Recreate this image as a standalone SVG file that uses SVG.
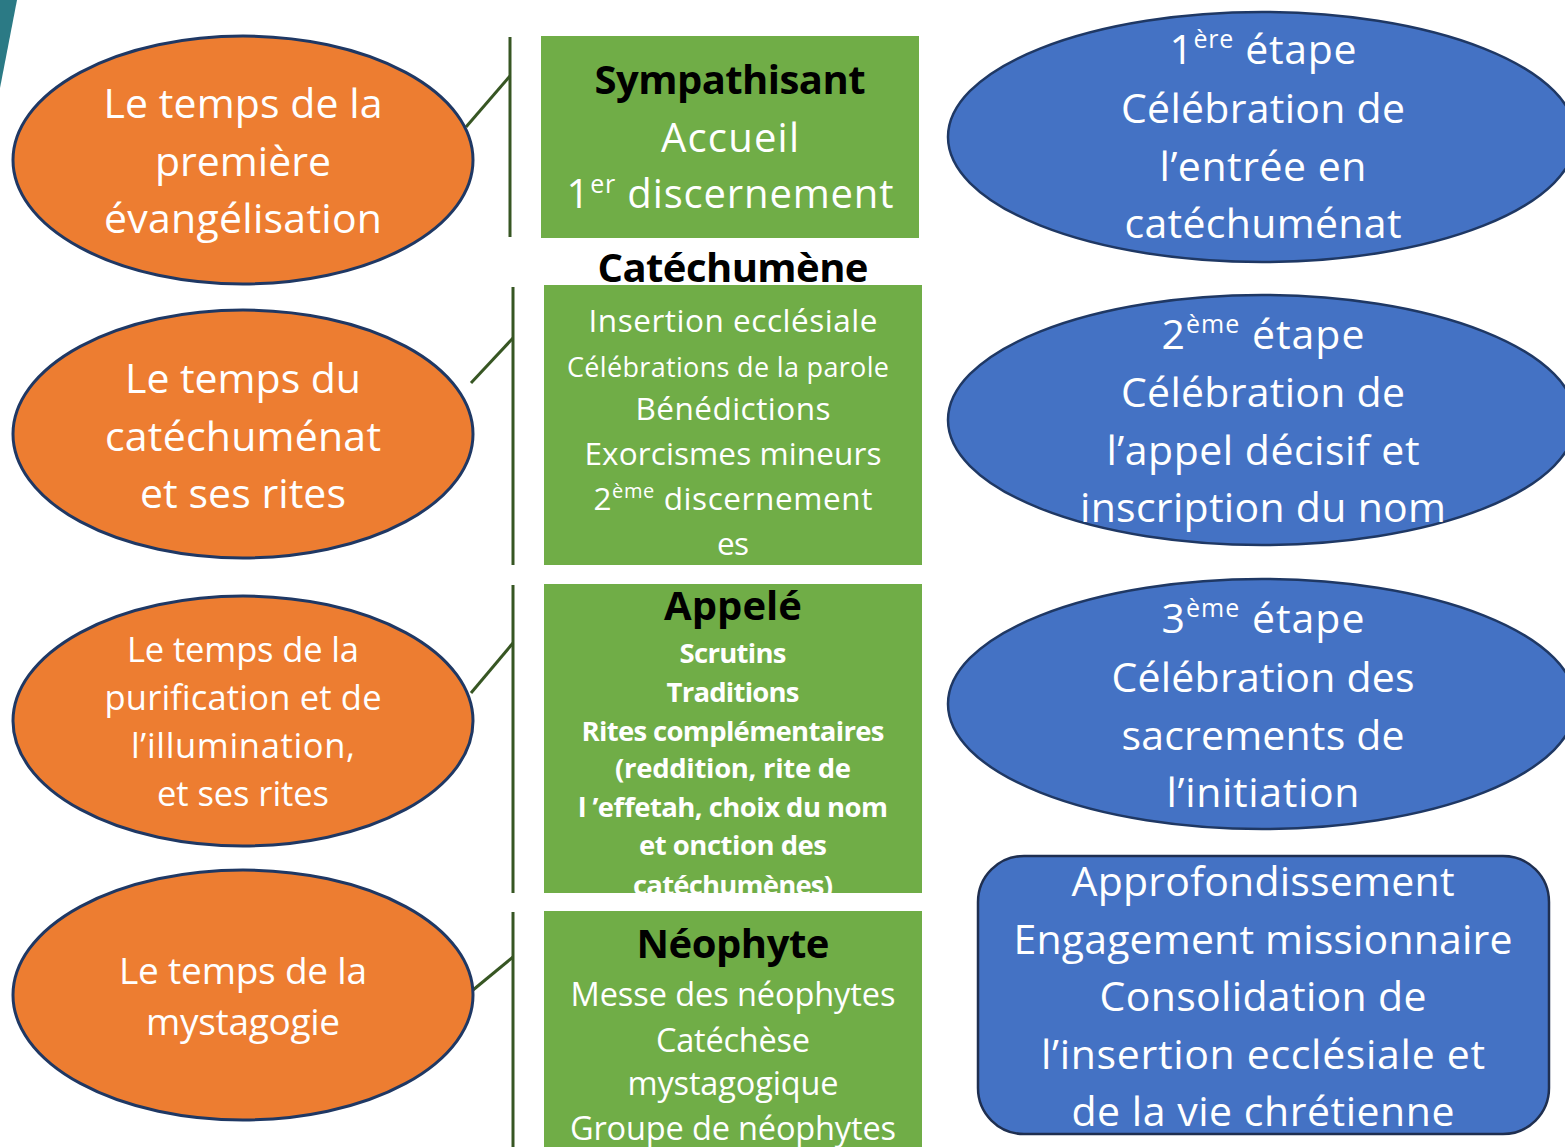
<svg xmlns="http://www.w3.org/2000/svg" width="1565" height="1147" viewBox="0 0 1565 1147">
<defs>
<style>
.t{font-family:"Open Sans","Noto Sans","Liberation Sans",sans-serif;text-anchor:middle;fill:#ffffff}
.bk{fill:#000000;font-weight:bold}
.bd{font-weight:bold}
.or{fill:#ed7d31;stroke:#1f3864;stroke-width:3}
.bl{fill:#4472c4;stroke:#1f3864;stroke-width:2.5}
.gr{fill:#70ad47}
.ln{stroke:#375623;stroke-width:3;fill:none}
</style>
<clipPath id="clip3"><rect x="544" y="584" width="378" height="309"/></clipPath>
</defs>
<rect width="1565" height="1147" fill="#ffffff"/>
<polygon points="0,0 17,0 0,88" fill="#2b7a85"/>

<g id="connectors">
<line class="ln" x1="510" y1="37" x2="510" y2="237"/>
<line class="ln" x1="466" y1="127" x2="510" y2="76"/>
<line class="ln" x1="513" y1="287" x2="513" y2="565"/>
<line class="ln" x1="471" y1="383" x2="513" y2="338"/>
<line class="ln" x1="513" y1="585" x2="513" y2="893"/>
<line class="ln" x1="471" y1="693" x2="513" y2="643"/>
<line class="ln" x1="513" y1="912" x2="513" y2="1147"/>
<line class="ln" x1="473" y1="990" x2="513" y2="957"/>
</g>

<g id="temps1">
<ellipse class="or" cx="243" cy="160" rx="230" ry="124"/>
<text class="t" font-size="41"><tspan x="243" y="118" textLength="279">Le temps de la</tspan><tspan x="243" y="176" textLength="176">première</tspan><tspan x="243" y="233" textLength="278">évangélisation</tspan></text>
</g>
<g id="temps2">
<ellipse class="or" cx="243" cy="434" rx="230" ry="124"/>
<text class="t" font-size="41"><tspan x="243" y="393" textLength="236">Le temps du</tspan><tspan x="243" y="451" textLength="276">catéchuménat</tspan><tspan x="243" y="508" textLength="206">et ses rites</tspan></text>
</g>
<g id="temps3">
<ellipse class="or" cx="243" cy="721" rx="230" ry="125"/>
<text class="t" font-size="34.5"><tspan x="243" y="662" textLength="232">Le temps de la</tspan><tspan x="243" y="710" textLength="277">purification et de</tspan><tspan x="243" y="758" textLength="224">l’illumination,</tspan><tspan x="243" y="806" textLength="172">et ses rites</tspan></text>
</g>
<g id="temps4">
<ellipse class="or" cx="243" cy="995" rx="230" ry="125"/>
<text class="t" font-size="37"><tspan x="243" y="984" textLength="248">Le temps de la</tspan><tspan x="243" y="1035" textLength="194">mystagogie</tspan></text>
</g>

<g id="sympathisant">
<rect class="gr" x="541" y="36" width="378" height="202"/>
<text class="t bk" x="730" y="94" font-size="40" textLength="271">Sympathisant</text>
<text class="t" x="730" y="152" font-size="40" textLength="138">Accueil</text>
<text class="t" x="730" y="208" font-size="40" textLength="327">1<tspan font-size="25" dy="-15">er</tspan><tspan dy="15"> discernement</tspan></text>
</g>

<g id="catechumene">
<text class="t bk" x="733" y="282" font-size="40" textLength="271">Catéchumène</text>
<rect class="gr" x="544" y="285" width="378" height="280"/>
<text class="t" x="733" y="332" font-size="31.5" textLength="289">Insertion ecclésiale</text>
<text class="t" x="728" y="377" font-size="27" textLength="322">Célébrations de la parole</text>
<text class="t" x="733" y="420" font-size="31.5" textLength="195">Bénédictions</text>
<text class="t" x="733" y="465" font-size="31.5" textLength="297">Exorcismes mineurs</text>
<text class="t" x="733" y="510" font-size="31.5" textLength="279">2<tspan font-size="20" dy="-12">ème</tspan><tspan dy="12"> discernement</tspan></text>
<text class="t" x="733" y="555" font-size="31.5" textLength="32">es</text>
</g>

<g id="appele">
<rect class="gr" x="544" y="584" width="378" height="309"/>
<text class="t bk" x="733" y="620" font-size="40" textLength="138">Appelé</text>
<g class="bd" clip-path="url(#clip3)">
<text class="t bd" x="733" y="663" font-size="27.5" textLength="107">Scrutins</text>
<text class="t bd" x="733" y="702" font-size="27.5" textLength="133">Traditions</text>
<text class="t bd" x="733" y="741" font-size="27.5" textLength="303">Rites complémentaires</text>
<text class="t bd" x="733" y="778" font-size="27.5" textLength="236">(reddition, rite de</text>
<text class="t bd" x="733" y="817" font-size="27.5" textLength="310">l ’effetah, choix du nom</text>
<text class="t bd" x="733" y="855" font-size="27.5" textLength="188">et onction des</text>
<text class="t bd" x="733" y="895" font-size="27.5" textLength="200">catéchumènes)</text>
</g>
</g>

<g id="neophyte">
<rect class="gr" x="544" y="911" width="378" height="236"/>
<text class="t bk" x="733" y="958" font-size="40" textLength="193">Néophyte</text>
<text class="t" x="733" y="1006" font-size="32.5" textLength="325">Messe des néophytes</text>
<text class="t" x="733" y="1052" font-size="32.5" textLength="154">Catéchèse</text>
<text class="t" x="733" y="1095" font-size="32.5" textLength="211">mystagogique</text>
<text class="t" x="733" y="1140" font-size="32.5" textLength="326">Groupe de néophytes</text>
</g>

<g id="etape1">
<ellipse class="bl" cx="1262" cy="137" rx="314" ry="125"/>
<text class="t" x="1263" y="64" font-size="41" textLength="187">1<tspan font-size="25" dy="-16">ère</tspan><tspan dy="16"> étape</tspan></text>
<text class="t" font-size="41"><tspan x="1263" y="123" textLength="284">Célébration de</tspan><tspan x="1263" y="181" textLength="207">l’entrée en</tspan><tspan x="1263" y="238" textLength="277">catéchuménat</tspan></text>
</g>

<g id="etape2">
<ellipse class="bl" cx="1262" cy="420" rx="314" ry="125"/>
<text class="t" x="1263" y="349" font-size="41" textLength="203">2<tspan font-size="25" dy="-16">ème</tspan><tspan dy="16"> étape</tspan></text>
<text class="t" font-size="41"><tspan x="1263" y="407" textLength="284">Célébration de</tspan><tspan x="1263" y="465" textLength="313">l’appel décisif et</tspan><tspan x="1263" y="522" textLength="366">inscription du nom</tspan></text>
</g>

<g id="etape3">
<ellipse class="bl" cx="1262" cy="704" rx="314" ry="125"/>
<text class="t" x="1263" y="633" font-size="41" textLength="203">3<tspan font-size="25" dy="-16">ème</tspan><tspan dy="16"> étape</tspan></text>
<text class="t" font-size="41"><tspan x="1263" y="692" textLength="303">Célébration des</tspan><tspan x="1263" y="750" textLength="283">sacrements de</tspan><tspan x="1263" y="807" textLength="193">l’initiation</tspan></text>
</g>

<g id="mystagogie">
<rect x="978" y="856" width="571" height="278" rx="46" ry="46" fill="#4472c4" stroke="#1f2f50" stroke-width="2.5"/>
<text class="t" font-size="41"><tspan x="1263" y="896" textLength="383">Approfondissement</tspan><tspan x="1263" y="954" textLength="499">Engagement missionnaire</tspan><tspan x="1263" y="1011" textLength="327">Consolidation de</tspan><tspan x="1263" y="1069" textLength="444">l’insertion ecclésiale et</tspan><tspan x="1263" y="1126" textLength="383">de la vie chrétienne</tspan></text>
</g>
</svg>
